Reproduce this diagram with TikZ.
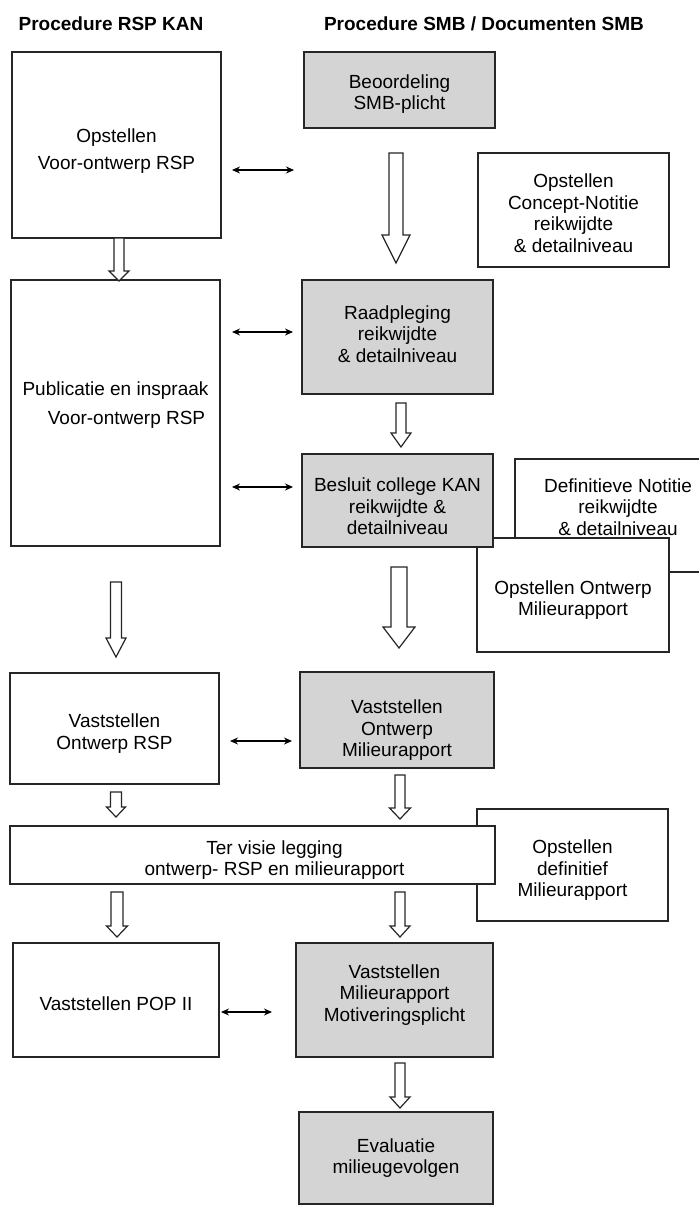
\documentclass[tikz,border=0pt]{standalone}
\usepackage{fontspec}
\setmainfont{Liberation Sans}
\usetikzlibrary{arrows.meta}
\newcommand\blkarrow[6]{\draw[blkarr] (#1-#4,#2) -- (#1+#4,#2) -- (#1+#4,#3-#6) -- (#1+#5,#3-#6) -- (#1,#3) -- (#1-#5,#3-#6) -- (#1-#4,#3-#6) -- cycle;}
\newcommand\tdn[1]{\rule{0pt}{#1}}
\newcommand\tup[1]{\rule[-#1]{0pt}{0pt}}
\begin{document}
\begin{tikzpicture}[x=0.5pt,y=-0.5pt,
 box/.style={draw=black!85, line width=0.75pt, fill=white, align=center, inner sep=0pt, font=\fontsize{9.5}{10.75}\selectfont},
 graybox/.style={box, fill=black!17},
 title/.style={font=\fontsize{9.5}{11}\selectfont\bfseries, inner sep=0pt},
 blkarr/.style={draw=black!85, line width=0.6pt, fill=white, line join=miter},
 biarr/.style={draw=black, line width=0.6pt, {Stealth[length=4pt,width=3.5pt]}-{Stealth[length=4pt,width=3.5pt]}}]
\clip (0,0) rectangle (699,1206);
\fill[white] (0,0) rectangle (699,1206);

% titles
\node[title] (t1) at (111,24) {Procedure RSP KAN};
\node[title] (t2) at (484,24) {Procedure SMB / Documenten SMB};

% left column
\node[box, minimum width=104.5pt, minimum height=93pt, font=\fontsize{9.5}{13.5}\selectfont] (a) at (116.5,145) {\tdn{13pt}Opstellen\\Voor-ontwerp RSP};
\node[box, minimum width=104.5pt, minimum height=133pt, font=\fontsize{9.5}{14.5}\selectfont] (c) at (115.5,413) {Publicatie en inspraak\\\hspace*{11pt}Voor-ontwerp RSP\tup{10pt}};
\node[box, minimum width=104.5pt, minimum height=55.5pt] (f) at (114.5,728.5) {\tdn{12pt}Vaststellen\\Ontwerp RSP};
\node[box, minimum width=103pt, minimum height=57pt] (pop) at (116,1000) {\tdn{11pt}Vaststellen POP II};

% middle column
\node[graybox, minimum width=95.5pt, minimum height=38pt] (b) at (399.5,90) {\tdn{11pt}Beoordeling\\SMB-plicht};
\node[graybox, minimum width=95.5pt, minimum height=57pt] (d) at (397.5,337) {Raadpleging\\reikwijdte\\\& detailniveau\tup{3.2pt}};

% right column (overlapping order)
\node[box, minimum width=95.5pt, minimum height=57pt] (cn) at (573.5,210) {\tdn{10pt}Opstellen\\Concept-Notitie\\reikwijdte\\\& detailniveau};
\node[box, minimum width=103pt, minimum height=56.5pt] (dn) at (618,515.5) {Definitieve Notitie\\reikwijdte\\\& detailniveau\tup{8.7pt}};
\node[box, minimum width=96pt, minimum height=57pt] (om) at (573,595) {\tdn{12pt}Opstellen Ontwerp\\Milieurapport};
\node[graybox, minimum width=95.5pt, minimum height=46.5pt] (e) at (397.5,500.5) {\tdn{13pt}Besluit college KAN\\reikwijdte \&\\detailniveau};
\node[graybox, minimum width=97pt, minimum height=48pt] (g) at (397,720) {\tdn{17pt}Vaststellen\\Ontwerp\\Milieurapport};
\node[box, minimum width=95.5pt, minimum height=56pt] (dm) at (572.5,865) {\tdn{12pt}Opstellen\\definitief\\Milieurapport};
\node[box, minimum width=242.5pt, minimum height=29pt] (tv) at (252.5,855) {\tdn{12pt}\hspace*{22pt}Ter visie legging\\\hspace*{22pt}ontwerp- RSP en milieurapport};
\node[graybox, minimum width=98.5pt, minimum height=57pt] (g2) at (394.5,1000) {Vaststellen\\Milieurapport\\Motiveringsplicht\tup{7pt}};
\node[graybox, minimum width=97pt, minimum height=46pt] (ev) at (396,1158) {Evaluatie\\milieugevolgen};

% block arrows
\blkarrow{119}{238}{281}{5}{10}{10}
\blkarrow{396}{153}{263}{7}{14}{28}
\blkarrow{401}{403}{447}{5}{10}{14}
\blkarrow{116}{582}{657}{5.5}{10}{19}
\blkarrow{399}{567}{648}{8}{16}{21}
\blkarrow{116}{792}{817}{5.5}{9.5}{10}
\blkarrow{400}{775}{819}{5}{10.5}{11}
\blkarrow{117}{892}{937}{6}{10.5}{11}
\blkarrow{400}{892}{937}{5}{10}{11}
\blkarrow{400}{1063}{1108}{5}{10}{11}

% bidirectional arrows
\coordinate (l1) at (232,170); \coordinate (r1) at (294,170);
\coordinate (l2) at (232,332); \coordinate (r2) at (293,332);
\coordinate (l3) at (232,487); \coordinate (r3) at (293,487);
\coordinate (l4) at (230,741); \coordinate (r4) at (292,741);
\coordinate (l5) at (221,1012); \coordinate (r5) at (272,1012);
\draw[biarr] (l1) -- (r1);
\draw[biarr] (l2) -- (r2);
\draw[biarr] (l3) -- (r3);
\draw[biarr] (l4) -- (r4);
\draw[biarr] (l5) -- (r5);
\end{tikzpicture}
\end{document}
